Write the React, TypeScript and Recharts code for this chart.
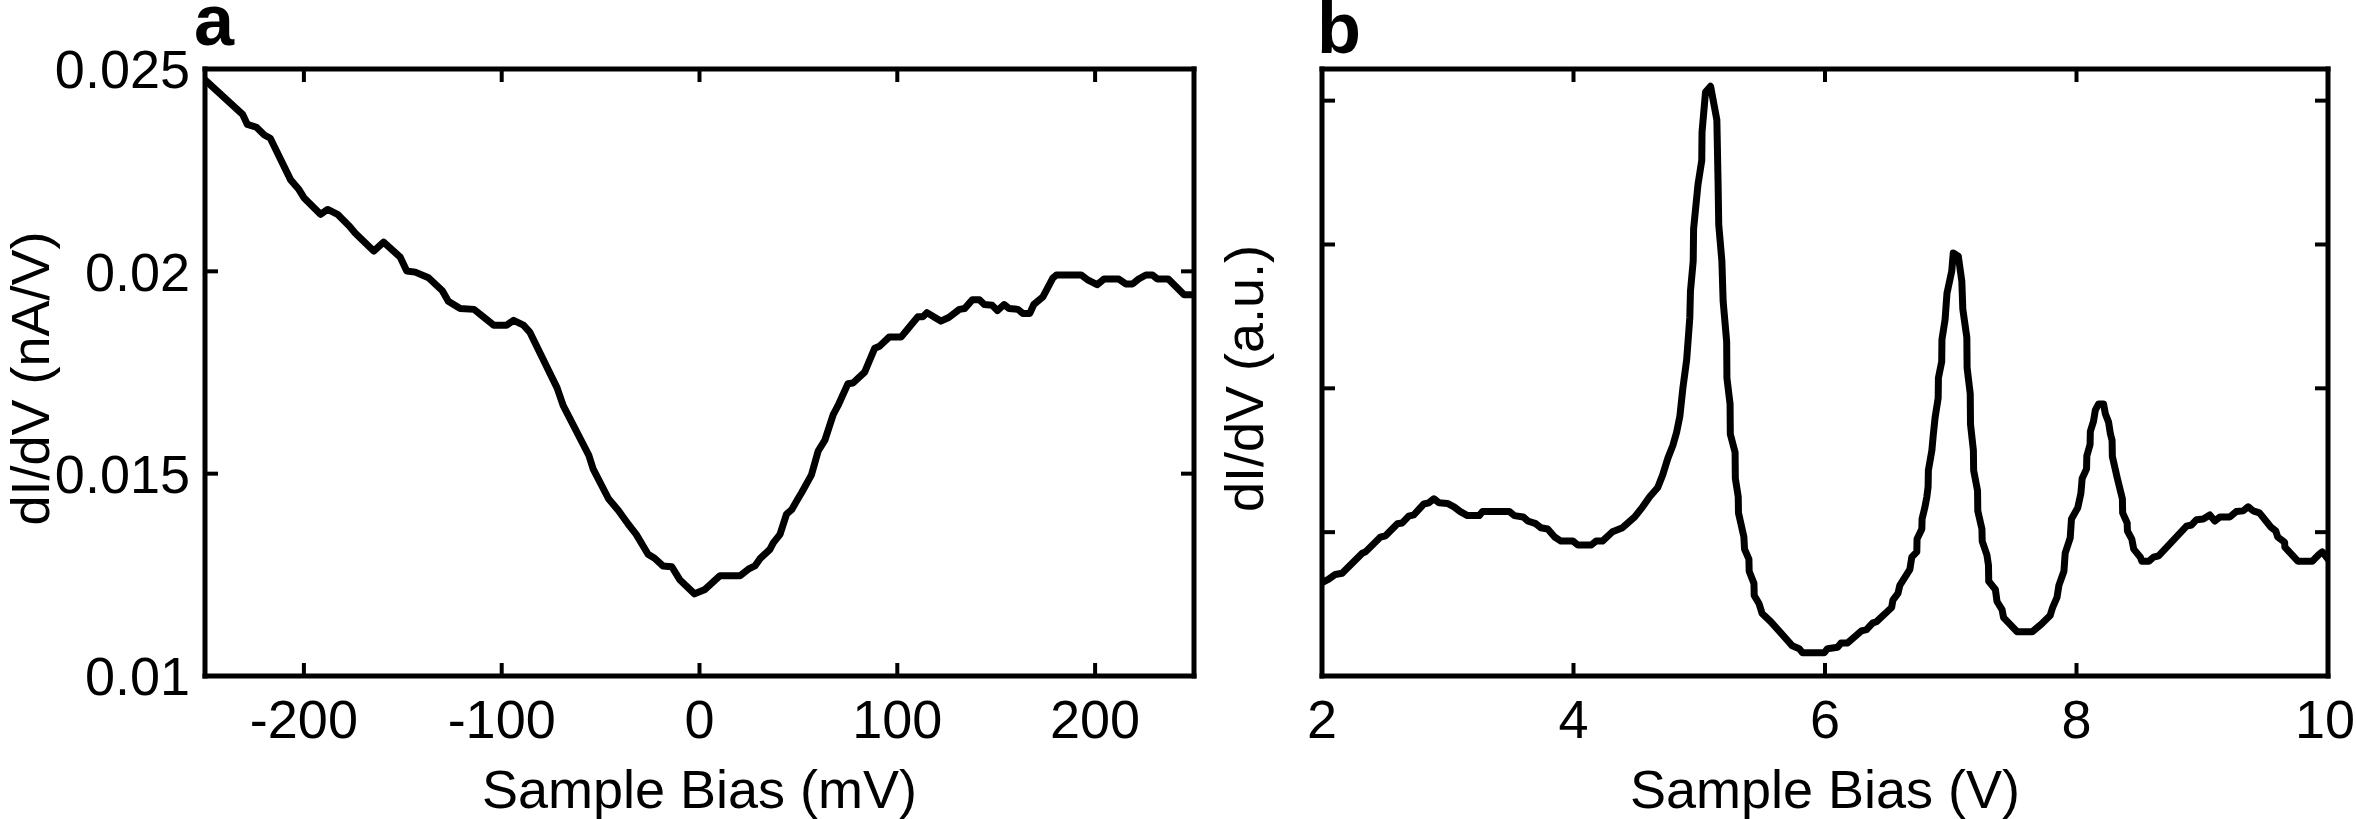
import React from 'react';
import { LineChart, Line, XAxis, YAxis } from 'recharts';

// ---------- Panel a data ----------
const biasA = [
  -250, -231, -228.6, -224, -220, -217, -206.7, -202.5, -200, -191.6, -188, -183, -177.3, -174,
  -164.7, -159.7, -151.3, -148, -143.7, -137, -130, -127, -121, -114, -108.4, -104, -97.5, -94,
  -89, -85.7, -72, -68.9, -56, -53.8, -46, -41, -36, -32, -26, -22.7, -18.5, -14, -10, -2.5,
  2.5, 10.4, 20.5, 24.7, 28, 30.6, 35.6, 37.3, 40.7, 44, 46.6, 50, 51.6, 56.6, 60, 63.4, 67.6,
  70, 75, 77.6, 83.5, 88.6, 91, 96, 102, 106, 110.4, 113, 115, 119, 122, 126, 131.4, 134, 138,
  141.5, 144, 148, 150.6, 154, 156.5, 161, 163.5, 167, 169, 173.6, 178.6, 180.4, 193, 196.5,
  201, 204.5, 212, 215.5, 219, 222, 225.7, 229, 231.5, 237, 245, 250,
];
const didvA = [
  0.02473, 0.02388, 0.02363, 0.02356, 0.02337, 0.02329, 0.02226, 0.02202, 0.02182, 0.02141,
  0.02153, 0.02141, 0.02113, 0.02094, 0.0205, 0.02072, 0.02035, 0.02001, 0.01998, 0.01984,
  0.01952, 0.01926, 0.01908, 0.01906, 0.01884, 0.01867, 0.01867, 0.01879, 0.01867, 0.01849,
  0.01712, 0.01668, 0.01546, 0.01512, 0.01438, 0.01409, 0.01375, 0.0135, 0.01301, 0.01291,
  0.01272, 0.0127, 0.01238, 0.01203, 0.01213, 0.01248, 0.01248, 0.01264, 0.01272, 0.0129,
  0.01313, 0.01329, 0.0135, 0.014, 0.01411, 0.0144, 0.01453, 0.01497, 0.01556, 0.01583,
  0.01646, 0.01668, 0.01722, 0.01724, 0.01751, 0.0181, 0.01815, 0.01838, 0.01838, 0.01862,
  0.01888, 0.01888, 0.01898, 0.01886, 0.01877, 0.01886, 0.01906, 0.01908, 0.0193, 0.0193,
  0.01918, 0.01916, 0.01903, 0.01918, 0.01908, 0.01906, 0.01896, 0.01896, 0.01918, 0.01937,
  0.01983, 0.01991, 0.01991, 0.01978, 0.01967, 0.01981, 0.01981, 0.01969, 0.01969, 0.01981,
  0.01991, 0.01991, 0.01981, 0.01981, 0.01942, 0.01942,
];
const ticksAx = [-200, -100, 0, 100, 200];
const ticksAy = [0.01, 0.015, 0.02, 0.025];
const domainAx = [-250, 250];
const domainAy = [0.01, 0.025];

// ---------- Panel b data ----------
const biasB = [
  2.0, 2.05, 2.106, 2.16, 2.32, 2.346, 2.465, 2.505, 2.6, 2.638, 2.69, 2.73, 2.81, 2.85, 2.89,
  2.93, 2.997, 3.05, 3.1, 3.157, 3.25, 3.277, 3.49, 3.53, 3.6, 3.636, 3.7, 3.74, 3.795, 3.85,
  3.9, 3.995, 4.035, 4.14, 4.18, 4.23, 4.31, 4.39, 4.487, 4.55, 4.606, 4.67, 4.71, 4.75, 4.79,
  4.82, 4.846, 4.87, 4.9, 4.925, 4.93, 4.952, 4.955, 4.99, 5.02, 5.022, 5.05, 5.09, 5.12, 5.14,
  5.15, 5.155, 5.18, 5.19, 5.218, 5.22, 5.245, 5.247, 5.285, 5.287, 5.31, 5.312, 5.355, 5.36,
  5.395, 5.397, 5.435, 5.437, 5.475, 5.5, 5.568, 5.74, 5.795, 5.82, 5.995, 6.02, 6.1, 6.128,
  6.18, 6.29, 6.33, 6.38, 6.41, 6.53, 6.54, 6.58, 6.595, 6.635, 6.675, 6.69, 6.73, 6.732, 6.77,
  6.772, 6.795, 6.81, 6.82, 6.822, 6.85, 6.86, 6.875, 6.9, 6.902, 6.928, 6.93, 6.955, 6.97,
  7.008, 7.02, 7.06, 7.088, 7.096, 7.128, 7.13, 7.155, 7.157, 7.18, 7.182, 7.213, 7.215, 7.248,
  7.25, 7.288, 7.3, 7.302, 7.355, 7.368, 7.408, 7.42, 7.528, 7.648, 7.72, 7.79, 7.81, 7.845,
  7.86, 7.9, 7.91, 7.95, 7.96, 8.01, 8.035, 8.045, 8.08, 8.082, 8.108, 8.11, 8.135, 8.15, 8.175,
  8.215, 8.23, 8.255, 8.27, 8.283, 8.285, 8.325, 8.365, 8.367, 8.403, 8.405, 8.44, 8.455,
  8.508, 8.52, 8.575, 8.613, 8.653, 8.875, 8.915, 8.955, 9.008, 9.06, 9.1, 9.14, 9.22, 9.27,
  9.325, 9.365, 9.405, 9.455, 9.545, 9.585, 9.6, 9.655, 9.657, 9.76, 9.875, 9.93, 9.955, 10.0,
];
const didvB = [
  0.65, 0.672, 0.706, 0.714, 0.854, 0.863, 0.966, 0.975, 1.059, 1.064, 1.112, 1.12, 1.196,
  1.204, 1.232, 1.204, 1.2, 1.176, 1.143, 1.115, 1.115, 1.143, 1.143, 1.115, 1.106, 1.078,
  1.059, 1.031, 1.022, 0.966, 0.938, 0.938, 0.91, 0.91, 0.938, 0.938, 1.003, 1.031, 1.106,
  1.176, 1.246, 1.311, 1.4, 1.513, 1.602, 1.695, 1.807, 2.003, 2.199, 2.493, 2.675, 2.885,
  3.109, 3.417, 3.585, 3.78, 4.06, 4.1, 3.96, 3.866, 3.417, 3.137, 2.885, 2.605, 2.325, 2.073,
  1.891, 1.681, 1.555, 1.373, 1.246, 1.134, 0.966, 0.882, 0.812, 0.728, 0.644, 0.56, 0.504,
  0.434, 0.378, 0.21, 0.19, 0.162, 0.162, 0.19, 0.2, 0.23, 0.23, 0.314, 0.322, 0.37, 0.378,
  0.476, 0.527, 0.574, 0.63, 0.686, 0.742, 0.826, 0.863, 0.952, 1.022, 1.092, 1.176, 1.246,
  1.316, 1.429, 1.569, 1.667, 1.793, 1.933, 2.073, 2.185, 2.339, 2.479, 2.661, 2.815, 2.941,
  2.919, 2.745, 2.549, 2.353, 2.143, 1.961, 1.751, 1.569, 1.429, 1.289, 1.148, 1.022, 0.938,
  0.84, 0.77, 0.658, 0.602, 0.518, 0.462, 0.406, 0.308, 0.308, 0.36, 0.42, 0.476, 0.546, 0.63,
  0.728, 0.854, 0.96, 1.092, 1.17, 1.27, 1.373, 1.44, 1.53, 1.61, 1.7, 1.77, 1.849, 1.891,
  1.891, 1.821, 1.765, 1.681, 1.639, 1.527, 1.373, 1.232, 1.134, 1.064, 1.008, 0.952, 0.882,
  0.826, 0.798, 0.798, 0.826, 0.835, 1.042, 1.05, 1.087, 1.092, 1.12, 1.078, 1.106, 1.106,
  1.143, 1.148, 1.176, 1.148, 1.134, 1.036, 1.008, 0.966, 0.93, 0.896, 0.798, 0.798, 0.846,
  0.863, 0.812,
];
const ticksBx = [2, 4, 6, 8, 10];
const ticksBy = [1, 2, 3, 4];
const domainBx = [2, 10];
const domainBy = [0, 4.22];

const dataA = biasA.map((x, i) => ({ x, y: didvA[i] }));
const dataB = biasB.map((x, i) => ({ x, y: didvB[i] }));

const FONT = '"Liberation Sans", Arial, Helvetica, sans-serif';
const FONT_SIZE = 54;
const TICK_LEN = 13;
const TICK_W = 4;
const FRAME_W = 5;
const axisLineStyle = { stroke: '#000', strokeWidth: FRAME_W, strokeLinecap: 'square' as const };
const labelStyle = { fontSize: FONT_SIZE, fill: '#000', fontFamily: FONT, textAnchor: 'middle' as const };

// Custom ticks: inward tick marks, labels outside (label kept inside the chart's width)
const makeBottomTick = (chartWidth: number) => (props: any) => {
  const { x, y, payload } = props;
  const label = String(payload.value);
  const half = (label.length * 0.556 * FONT_SIZE) / 2;
  const tx = Math.min(x, chartWidth - half - 1);
  return (
    <g>
      <line x1={x} y1={y} x2={x} y2={y - TICK_LEN} stroke="#000" strokeWidth={TICK_W} />
      <text x={tx} y={y + 24} dy="0.71em" textAnchor="middle" fontSize={FONT_SIZE} fontFamily={FONT} fill="#000">
        {label}
      </text>
    </g>
  );
};
const TopTick = (props: any) => {
  const { x, y } = props;
  return <line x1={x} y1={y} x2={x} y2={y + TICK_LEN} stroke="#000" strokeWidth={TICK_W} />;
};
const LeftTickLabeled = (props: any) => {
  const { x, y, payload } = props;
  return (
    <g>
      <line x1={x} y1={y} x2={x + TICK_LEN} y2={y} stroke="#000" strokeWidth={TICK_W} />
      <text x={x - 15} y={y} dy="0.355em" textAnchor="end" fontSize={FONT_SIZE} fontFamily={FONT} fill="#000">
        {String(payload.value)}
      </text>
    </g>
  );
};
const LeftTickPlain = (props: any) => {
  const { x, y } = props;
  return <line x1={x} y1={y} x2={x + TICK_LEN} y2={y} stroke="#000" strokeWidth={TICK_W} />;
};
const RightTick = (props: any) => {
  const { x, y } = props;
  return <line x1={x} y1={y} x2={x - TICK_LEN} y2={y} stroke="#000" strokeWidth={TICK_W} />;
};

function Panel(props: {
  data: { x: number; y: number }[];
  width: number;
  marginLeft: number;
  marginRight: number;
  yAxisWidth: number;
  domainX: number[];
  domainY: number[];
  ticksX: number[];
  ticksY: number[];
  showYTickLabels: boolean;
  xLabel: string;
  yLabel: string;
}) {
  const p = props;
  const BottomTick = makeBottomTick(p.width);
  return (
    <LineChart
      width={p.width}
      height={819}
      data={p.data}
      margin={{ top: 68, right: p.marginRight, left: p.marginLeft, bottom: 11 }}
    >
      <XAxis
        dataKey="x"
        type="number"
        domain={p.domainX}
        ticks={p.ticksX}
        interval={0}
        allowDataOverflow
        height={132}
        tick={BottomTick}
        tickSize={0}
        tickMargin={0}
        tickLine={false}
        axisLine={axisLineStyle}
        label={{ value: p.xLabel, position: 'insideBottom', offset: 0, style: labelStyle }}
      />
      <XAxis
        xAxisId="top"
        orientation="top"
        dataKey="x"
        type="number"
        domain={p.domainX}
        ticks={p.ticksX}
        interval={0}
        allowDataOverflow
        height={1}
        tick={TopTick}
        tickSize={0}
        tickMargin={0}
        tickLine={false}
        axisLine={axisLineStyle}
      />
      <YAxis
        type="number"
        domain={p.domainY}
        ticks={p.ticksY}
        interval={0}
        allowDataOverflow
        width={p.yAxisWidth}
        tick={p.showYTickLabels ? LeftTickLabeled : LeftTickPlain}
        tickSize={0}
        tickMargin={0}
        tickLine={false}
        axisLine={axisLineStyle}
        label={{ value: p.yLabel, angle: -90, position: 'insideLeft', offset: 0, dy: 6, style: labelStyle }}
      />
      <YAxis
        yAxisId="right"
        orientation="right"
        type="number"
        domain={p.domainY}
        ticks={p.ticksY}
        interval={0}
        allowDataOverflow
        width={1}
        tick={RightTick}
        tickSize={0}
        tickMargin={0}
        tickLine={false}
        axisLine={axisLineStyle}
      />
      <Line
        type="linear"
        dataKey="y"
        stroke="#000"
        strokeWidth={7}
        strokeLinejoin="round"
        strokeLinecap="round"
        dot={false}
        activeDot={false}
        isAnimationActive={false}
      />
    </LineChart>
  );
}

const letterStyle: React.CSSProperties = {
  position: 'absolute',
  fontFamily: FONT,
  fontWeight: 'bold',
  fontSize: 72,
  lineHeight: '40px',
  height: 40,
  color: '#000',
  margin: 0,
};

export default function App() {
  return (
    <div
      style={{
        position: 'absolute',
        left: 0,
        top: 0,
        width: 2356,
        height: 819,
        background: '#fff',
        overflow: 'hidden',
      }}
    >
      <div style={{ position: 'absolute', left: 0, top: 0 }}>
        <Panel
          data={dataA}
          width={1200}
          marginLeft={30}
          marginRight={5}
          yAxisWidth={175}
          domainX={domainAx}
          domainY={domainAy}
          ticksX={ticksAx}
          ticksY={ticksAy}
          showYTickLabels={true}
          xLabel="Sample Bias (mV)"
          yLabel="dI/dV (nA/V)"
        />
      </div>
      <div style={{ position: 'absolute', left: 1200, top: 0 }}>
        <Panel
          data={dataB}
          width={1156}
          marginLeft={44}
          marginRight={27}
          yAxisWidth={78}
          domainX={domainBx}
          domainY={domainBy}
          ticksX={ticksBx}
          ticksY={ticksBy}
          showYTickLabels={false}
          xLabel="Sample Bias (V)"
          yLabel="dI/dV (a.u.)"
        />
      </div>
      <div style={{ ...letterStyle, left: 194, top: 0 }}>a</div>
      <div style={{ ...letterStyle, left: 1317, top: 8 }}>b</div>
    </div>
  );
}
